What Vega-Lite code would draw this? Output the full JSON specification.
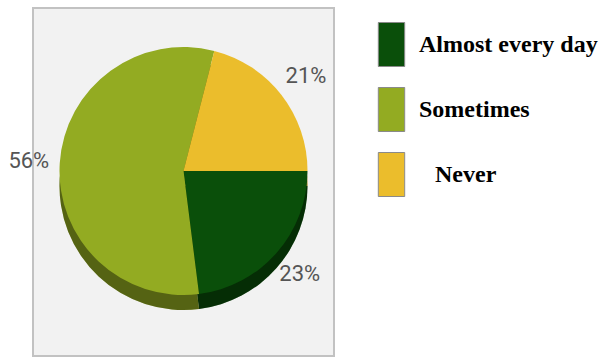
{
  "$schema": "https://vega.github.io/schema/vega-lite/v6.json",
  "width": 301,
  "height": 348,
  "autosize": "none",
  "padding": {"left": 33, "top": 8, "right": 268, "bottom": 4},
  "background": "#ffffff",
  "view": {"fill": "#f2f2f2", "stroke": "#c2c2c2", "strokeWidth": 2},
  "data": {
    "values": [
      {"category": "Almost every day", "share": 0.23, "rank": 1},
      {"category": "Sometimes", "share": 0.56, "rank": 2},
      {"category": "Never", "share": 0.21, "rank": 3}
    ]
  },
  "encoding": {
    "theta": {"field": "share", "type": "quantitative", "stack": true, "scale": {"range": [1.5708, 7.854]}},
    "order": {"field": "rank", "type": "quantitative"},
    "color": {
      "field": "category", "type": "nominal",
      "scale": {"domain": ["Almost every day", "Sometimes", "Never"], "range": ["#0a4f0a", "#93ab22", "#ebbd2c"]},
      "legend": {
        "title": null,
        "orient": "none",
        "legendX": 336,
        "legendY": 14,
        "symbolType": "M-0.6,-1H0.6V1H-0.6Z",
        "symbolSize": 1936,
        "symbolStrokeColor": "#8a8a8a",
        "symbolStrokeWidth": 1,
        "symbolOpacity": 1,
        "rowPadding": 16,
        "labelOffset": 5,
        "labelFont": "Liberation Serif",
        "labelFontWeight": "bold",
        "labelFontSize": 24,
        "labelColor": "#000000",
        "labelLimit": 300,
        "encode": {
          "labels": {
            "update": {
              "dx": {"signal": "datum.value === 'Never' ? 16 : 0"}
            }
          }
        }
      }
    }
  },
  "layer": [
    {
      "mark": {"type": "arc", "outerRadius": 124, "yOffset": 4}
    },
    {
      "mark": {"type": "arc", "outerRadius": 124, "yOffset": 4, "opacity": 0.42},
      "encoding": {"color": {"value": "#000000"}}
    },
    {
      "mark": {"type": "arc", "outerRadius": 124, "yOffset": -11}
    },
    {
      "mark": {"type": "text", "radius": 155, "yOffset": -11, "font": "Roboto", "fontSize": 22},
      "encoding": {
        "text": {"field": "share", "type": "quantitative", "format": ".0%"},
        "color": {"value": "#555555"},
        "detail": {"field": "category"}
      }
    }
  ]
}
